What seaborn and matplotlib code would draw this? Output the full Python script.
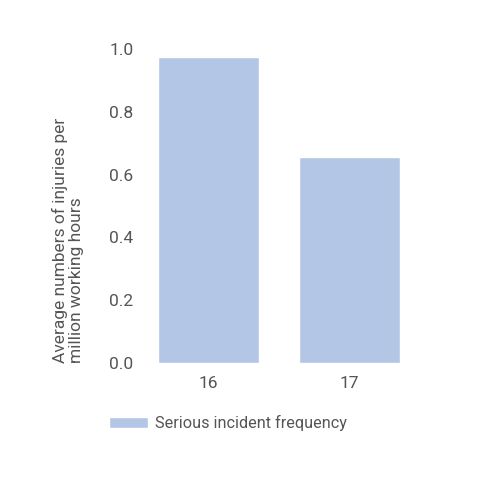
import matplotlib
matplotlib.use("Agg")
import matplotlib.pyplot as plt
import seaborn as sns
import pandas as pd

categories = ["16", "17"]
values = [0.975, 0.656]
series_name = "Serious incident frequency"
y_ticks = [0.0, 0.2, 0.4, 0.6, 0.8, 1.0]

sns.set_theme(style="white")
plt.rcParams['font.family'] = ['Roboto', 'DejaVu Sans']
text_color = "#555555"

df = pd.DataFrame({"year": categories, "value": values, "series": series_name})

fig = plt.figure(figsize=(5, 5), dpi=100)
ax = fig.add_axes([0.275, 0.274, 0.565, 0.628])
sns.barplot(data=df, x="year", y="value", hue="series", palette=["#b4c6e6"],
            width=0.714, ax=ax, saturation=1)
ax.set_xlim(-0.5, 1.5)
ax.set_ylim(0, 1.0)
ax.set_yticks(y_ticks)
ax.set_yticklabels([f"{t:.1f}" for t in y_ticks])
for s in ax.spines.values():
    s.set_visible(False)
ax.tick_params(axis='both', length=0, labelsize=12.5, colors=text_color)
ax.tick_params(axis='y', pad=3)
ax.tick_params(axis='x', pad=9)
ax.set_xlabel("")
ax.set_ylabel("Average numbers of injuries per\nmillion working hours",
              loc="bottom", fontsize=12.5, color=text_color, labelpad=18,
              linespacing=1.1)
ax.get_legend().remove()
handles, labels = ax.get_legend_handles_labels()
fig.legend(handles, labels, loc="upper left", bbox_to_anchor=(0.218, 0.17),
           frameon=False, fontsize=11.7, labelcolor=text_color,
           handlelength=2.4, handleheight=0.7, handletextpad=0.45,
           borderaxespad=0, borderpad=0)
fig.savefig("out.png", dpi=100, facecolor="white")
